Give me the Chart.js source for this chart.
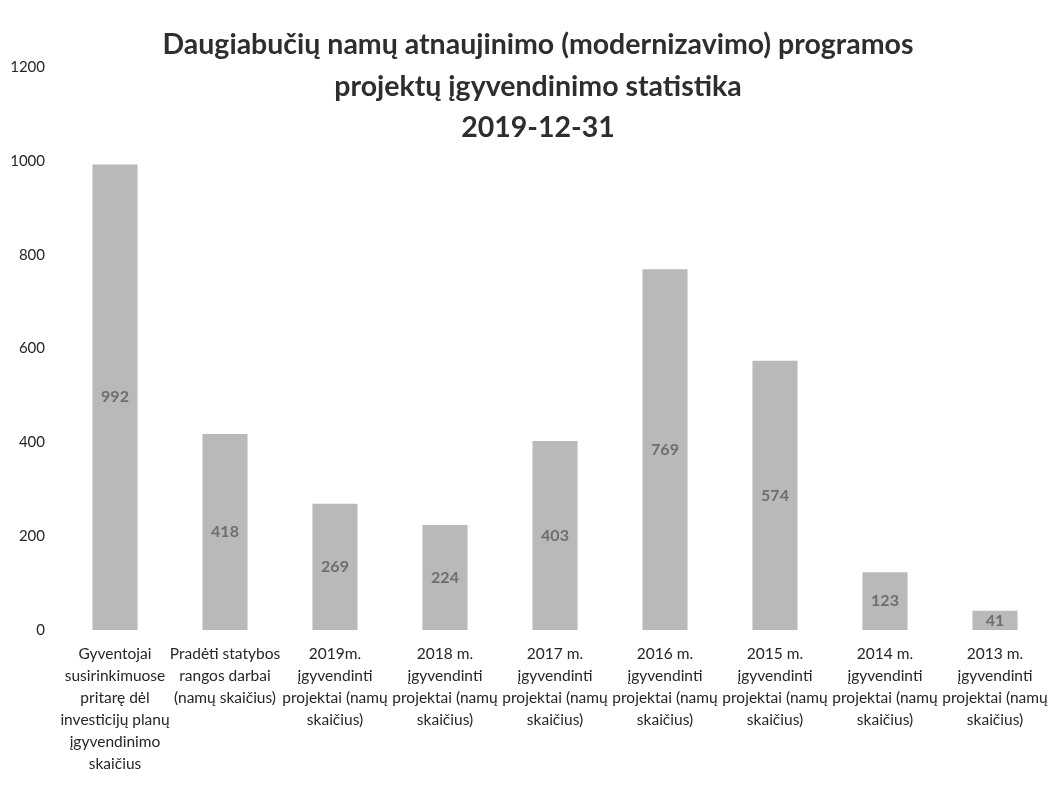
<!DOCTYPE html>
<html lang="lt">
<head>
<meta charset="utf-8">
<title>Daugiabučių namų atnaujinimo statistika</title>
<script src="https://cdn.jsdelivr.net/npm/chart.js@4.4.1/dist/chart.umd.min.js"></script>
<style>
  html, body { margin: 0; padding: 0; background: #fff; }
  #wrap { width: 1051px; height: 795px; }
</style>
</head>
<body>
<div id="wrap"><canvas id="chart" width="1051" height="795"></canvas></div>
<script>
'use strict';

// antraštė (3 eilutės)
const titleLines = [
  'Daugiabučių namų atnaujinimo (modernizavimo) programos',
  'projektų įgyvendinimo statistika',
  '2019-12-31'
];

// kategorijos - kiekviena eilutė atskirai
const categories = [
  ['Gyventojai', 'susirinkimuose', 'pritarę dėl', 'investicijų planų', 'įgyvendinimo', 'skaičius'],
  ['Pradėti statybos', 'rangos darbai', '(namų skaičius)'],
  ['2019m.', 'įgyvendinti', 'projektai (namų', 'skaičius)'],
  ['2018 m.', 'įgyvendinti', 'projektai (namų', 'skaičius)'],
  ['2017 m.', 'įgyvendinti', 'projektai (namų', 'skaičius)'],
  ['2016 m.', 'įgyvendinti', 'projektai (namų', 'skaičius)'],
  ['2015 m.', 'įgyvendinti', 'projektai (namų', 'skaičius)'],
  ['2014 m.', 'įgyvendinti', 'projektai (namų', 'skaičius)'],
  ['2013 m.', 'įgyvendinti', 'projektai (namų', 'skaičius)']
];

// reikšmės
const values = [992, 418, 269, 224, 403, 769, 574, 123, 41];

// y ašis
const yMin = 0;
const yMax = 1200;
const yStep = 200;

const barColor = '#b9b9b9';
const FONT = 'Lato, "Open Sans", "Noto Sans", sans-serif';

// antraštė piešiama virš diagramos (kaip Excel'yje)
const titlePlugin = {
  id: 'overTitle',
  afterDraw(chart) {
    const ctx = chart.ctx;
    ctx.save();
    ctx.font = 'bold 28.5px ' + FONT;
    ctx.fillStyle = '#2e2e2e';
    ctx.textAlign = 'center';
    ctx.textBaseline = 'middle';
    titleLines.forEach((line, i) => {
      ctx.fillText(line, 538, 45 + i * 41.5);
    });
    ctx.restore();
  }
};

// reikšmės stulpelių viduryje
const valuePlugin = {
  id: 'barValues',
  afterDatasetsDraw(chart) {
    const ctx = chart.ctx;
    const meta = chart.getDatasetMeta(0);
    ctx.save();
    ctx.font = 'bold 16px ' + FONT;
    ctx.fillStyle = '#6e6e6e';
    ctx.textAlign = 'center';
    ctx.textBaseline = 'middle';
    meta.data.forEach((bar, i) => {
      const p = bar.getProps(['x', 'y', 'base'], true);
      ctx.fillText(String(values[i]), p.x, (p.y + p.base) / 2);
    });
    ctx.restore();
  }
};

const chart = new Chart(document.getElementById('chart'), {
  type: 'bar',
  data: {
    labels: categories,
    datasets: [{
      data: values,
      backgroundColor: barColor,
      borderWidth: 0,
      barPercentage: 0.41,
      categoryPercentage: 1.0
    }]
  },
  options: {
    responsive: false,
    animation: false,
    layout: { padding: { top: 67, right: 1, left: 0, bottom: 0 } },
    plugins: {
      legend: { display: false },
      title: { display: false },
      tooltip: { enabled: false }
    },
    scales: {
      x: {
        grid: { display: false, drawTicks: false },
        border: { display: false },
        ticks: {
          color: '#262626',
          font: { family: FONT, size: 15.5, lineHeight: 22 / 15.5 },
          padding: 13,
          maxRotation: 0,
          autoSkip: false
        },
        afterFit(scale) {
          scale.height = 165;
          // etiketės gali išlįsti už krašto, kaip originale
          scale.paddingLeft = 0;
          scale.paddingRight = 0;
        }
      },
      y: {
        min: yMin,
        max: yMax,
        grid: { display: false, drawTicks: false },
        border: { display: false },
        ticks: {
          stepSize: yStep,
          color: '#262626',
          font: { family: FONT, size: 15 },
          padding: 15,
          callback: (v) => String(v)
        },
        afterFit(scale) { scale.width = 60; }
      }
    }
  },
  plugins: [valuePlugin, titlePlugin]
});
</script>
</body>
</html>
